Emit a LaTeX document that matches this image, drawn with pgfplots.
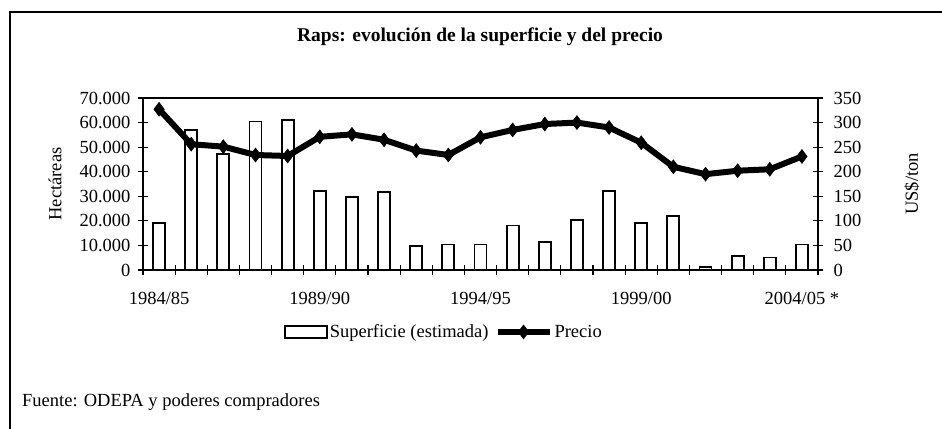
\documentclass[border=0pt]{standalone}
\usepackage{pgfplots}
\pgfplotsset{compat=1.18}
\usepackage{fontspec}
\setmainfont{Liberation Serif}
\pgfplotsset{
  pricelegend/.style={legend image code/.code={\draw[##1,mark repeat=2,mark phase=2] plot coordinates {(0bp,0bp)(26bp,0bp)(52bp,0bp)};}},
  barlegend/.style={legend image code/.code={\draw[fill=white,draw=black,line width=1.5bp] (0bp,-6bp) rectangle (42bp,6bp);}},
}
\begin{document}
\begin{tikzpicture}[font=\fontsize{18.5bp}{22bp}\selectfont]
\useasboundingbox (0,0) rectangle (942bp,429bp);
\draw[line width=1.2bp] (10bp,0bp) -- (10bp,417bp) -- (942bp,417bp);
\node[font=\fontsize{19.5bp}{23bp}\selectfont\bfseries] at (480bp,392bp) {Raps: evolución de la superficie y del precio};
\node[anchor=west, inner sep=0pt] at (22bp,27bp) {Fuente: ODEPA y poderes compradores};
\pgfplotsset{common/.style={
  width=675bp, height=172bp, scale only axis,
  at={(143bp,159bp)}, anchor=south west,
  xmin=-0.5, xmax=20.5,
  /pgf/number format/assume math mode=true,
  tick align=center, major tick length=10bp, minor tick length=10bp,
  axis line style={line width=1.2bp},
  every tick/.style={black, line width=1.2bp},
  ylabel style={anchor=center},
}}
\begin{axis}[common,
  ymin=0, ymax=70000, ytick={0,10000,...,70000},
  scaled y ticks=false,
  yticklabel style={/pgf/number format/1000 sep={.}, xshift=-4bp},
  xtick={0,5,10,15,20},
  xticklabels={1984/85,1989/90,1994/95,1999/00,2004/05 *},
  xticklabel style={yshift=-14bp},
  major x tick style={draw=none},
  minor xtick={-0.5,0.5,...,20.5},
  xtick pos=bottom, ytick pos=left,
  ylabel={Hectáreas},
  ylabel style={at={(axis description cs:-0.1304,0.5)}},
]
\addplot[ybar, bar width=12bp, fill=white, draw=black, line width=1.8bp] coordinates {
(0,19200) (1,57000) (2,47200) (3,60400) (4,61100) (5,32100) (6,29600)
(7,31600) (8,9800) (9,10400) (10,10400) (11,18100) (12,11500) (13,20300)
(14,32300) (15,19200) (16,22000) (17,1300) (18,5600) (19,5100) (20,10400)
};
\end{axis}
\begin{axis}[common,
  ymin=0, ymax=350, ytick={0,50,...,350},
  axis y line*=right, axis x line=none,
  yticklabel style={xshift=7bp},
  ylabel={US\$/ton},
  ylabel style={at={(axis description cs:1.139,0.5)}},
  legend style={at={(0.446,-0.36)}, anchor=center, draw=none, fill=none,
    /tikz/every even column/.append style={column sep=4bp}},
  legend columns=2, legend cell align=left,
]
\addlegendimage{barlegend}
\addlegendentry{Superficie (estimada)}
\addplot[black, line width=6bp, mark=diamond*, mark size=7bp, mark options={solid, line width=0.5bp}, pricelegend]
coordinates {
(0,327) (1,256) (2,251) (3,234) (4,232) (5,271) (6,276) (7,265) (8,243)
(9,234) (10,270) (11,285) (12,297) (13,300) (14,290) (15,259) (16,210)
(17,195) (18,202) (19,205) (20,231)
};
\addlegendentry{Precio}
\end{axis}
\end{tikzpicture}
\end{document}
